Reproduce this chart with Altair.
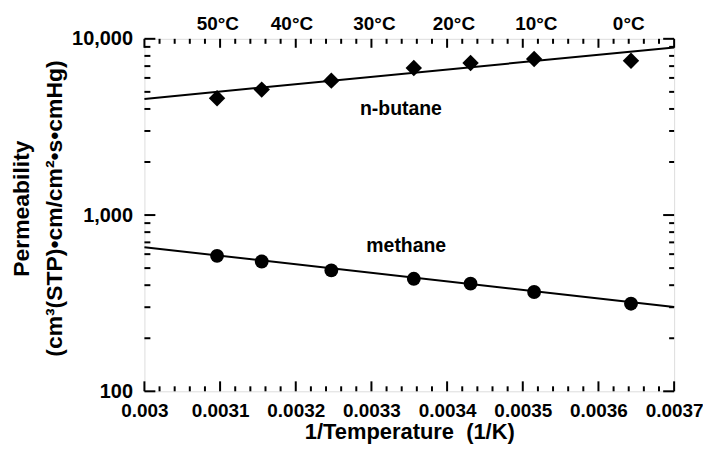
import altair as alt
import pandas as pd

# ---- data ----
inv_T = [0.003096, 0.003155, 0.003247, 0.003356, 0.003431, 0.003515, 0.003643]
methane_P = [587, 545, 485, 435, 408, 366, 314]
butane_P = [4600, 5150, 5790, 6830, 7290, 7680, 7510]

fit_x = [0.003, 0.0037]
methane_fit = [657, 301]
butane_fit = [4560, 8930]

temp_labels = ["50°C", "40°C", "30°C", "20°C", "10°C", "0°C"]
temp_label_x = [0.003097, 0.003195, 0.003304, 0.003409, 0.003518, 0.003640]

gas_names = ["n-butane", "methane"]
gas_label_x = [0.003339, 0.003346]
gas_label_y = [3972, 668]

x_ticks = [0.003, 0.0031, 0.0032, 0.0033, 0.0034, 0.0035, 0.0036, 0.0037]
x_minor = [0.00302, 0.00304, 0.00306, 0.00308,
           0.00312, 0.00314, 0.00316, 0.00318,
           0.00322, 0.00324, 0.00326, 0.00328,
           0.00332, 0.00334, 0.00336, 0.00338,
           0.00342, 0.00344, 0.00346, 0.00348,
           0.00352, 0.00354, 0.00356, 0.00358,
           0.00362, 0.00364, 0.00366, 0.00368]
y_ticks = [100, 1000, 10000]
y_minor = [200, 300, 400, 500, 600, 700, 800, 900,
           2000, 3000, 4000, 5000, 6000, 7000, 8000, 9000]

W, H = 532, 354
FONT = "Liberation Sans"

xscale = alt.Scale(domain=[0.003, 0.0037], nice=False, zero=False)
yscale = alt.Scale(type="log", domain=[100, 10000], nice=False)

pts = pd.DataFrame({
    "x": inv_T * 2,
    "P": methane_P + butane_P,
    "gas": ["methane"] * len(inv_T) + ["n-butane"] * len(inv_T),
})
fits = pd.DataFrame({
    "x": fit_x * 2,
    "P": methane_fit + butane_fit,
    "gas": ["methane"] * 2 + ["n-butane"] * 2,
})
tlab = pd.DataFrame({"x": temp_label_x, "t": temp_labels})
glab = pd.DataFrame({"x": gas_label_x, "P": gas_label_y, "t": gas_names})

xaxis = alt.Axis(values=x_ticks, format="~g", title="1/Temperature\u00a0\u00a0(1/K)",
                 grid=False, ticks=False, tickSize=0, domain=False,
                 labelFont=FONT, labelFontWeight="bold", labelFontSize=19,
                 labelColor="black", labelPadding=10, labelFlush=False,
                 titleFont=FONT, titleFontWeight="bold", titleFontSize=22,
                 titleColor="black", titleY=30, titleBaseline="top")
yaxis = alt.Axis(values=y_ticks, format=",",
                 title=["Permeability", "(cm³(STP)•cm/cm²•s•cmHg)"],
                 grid=False, ticks=False, tickSize=0, domain=False,
                 labelFont=FONT, labelFontWeight="bold", labelFontSize=20,
                 labelColor="black", labelPadding=12, labelFlush=False,
                 titleFont=FONT, titleFontWeight="bold", titleFontSize=23,
                 titleColor="black", titleLineHeight=33,
                 titleX=-116, titleY=170, titleAlign="center",
                 titleBaseline="alphabetic", titleAngle=270)

X = lambda f: alt.X(f, scale=xscale, axis=xaxis)
Y = lambda f: alt.Y(f, scale=yscale, axis=yaxis)

lines = alt.Chart(fits).mark_line(color="black", strokeWidth=2).encode(
    x=X("x:Q"), y=Y("P:Q"), detail="gas:N",
)

methane_pts = alt.Chart(pts).transform_filter(alt.datum.gas == "methane").mark_point(
    shape="circle", filled=True, size=193, color="black", opacity=1
).encode(x=X("x:Q"), y=Y("P:Q"))

butane_pts = alt.Chart(pts).transform_filter(alt.datum.gas == "n-butane").mark_point(
    shape="diamond", filled=True, size=272, color="black", opacity=1
).encode(x=X("x:Q"), y=Y("P:Q"))

gas_text = alt.Chart(glab).mark_text(
    font=FONT, fontWeight="bold", fontSize=19.5, color="black",
    align="center", baseline="middle"
).encode(x=X("x:Q"), y=Y("P:Q"), text="t:N")

temp_text = alt.Chart(tlab).mark_text(
    font=FONT, fontWeight="bold", fontSize=19, color="black",
    align="center", baseline="middle"
).encode(x=X("x:Q"), y=alt.value(-15), text="t:N")

def yrules(vals, length, right=False):
    df = pd.DataFrame({"v": vals})
    x0 = W if right else 0
    x1 = W - length if right else length
    return alt.Chart(df).mark_rule(color="black", strokeWidth=2).encode(
        y=Y("v:Q"), x=alt.value(x0), x2=alt.value(x1),
    )

def xrules(vals, length, top=False):
    df = pd.DataFrame({"v": vals})
    y0 = 0 if top else H
    y1 = length if top else H - length
    return alt.Chart(df).mark_rule(color="black", strokeWidth=2).encode(
        x=X("v:Q"), y=alt.value(y0), y2=alt.value(y1),
    )

ticks = [
    yrules(y_ticks, 11), yrules(y_minor, 6),
    yrules(y_ticks, 11, right=True), yrules(y_minor, 5, right=True),
    xrules(x_ticks, 10), xrules(x_minor, 5),
    xrules(x_ticks, 9, top=True), xrules(x_minor, 5, top=True),
]

chart = alt.layer(
    lines, *ticks, methane_pts, butane_pts, gas_text, temp_text
).properties(
    width=W, height=H,
    autosize=alt.AutoSizeParams(type="none"),
    padding={"left": 137, "top": 30, "right": 29, "bottom": 56},
).configure_view(
    stroke="black", strokeWidth=2.5
).configure(background="white")

chart.save("out.html", embed_options={"renderer": "svg", "actions": False})
